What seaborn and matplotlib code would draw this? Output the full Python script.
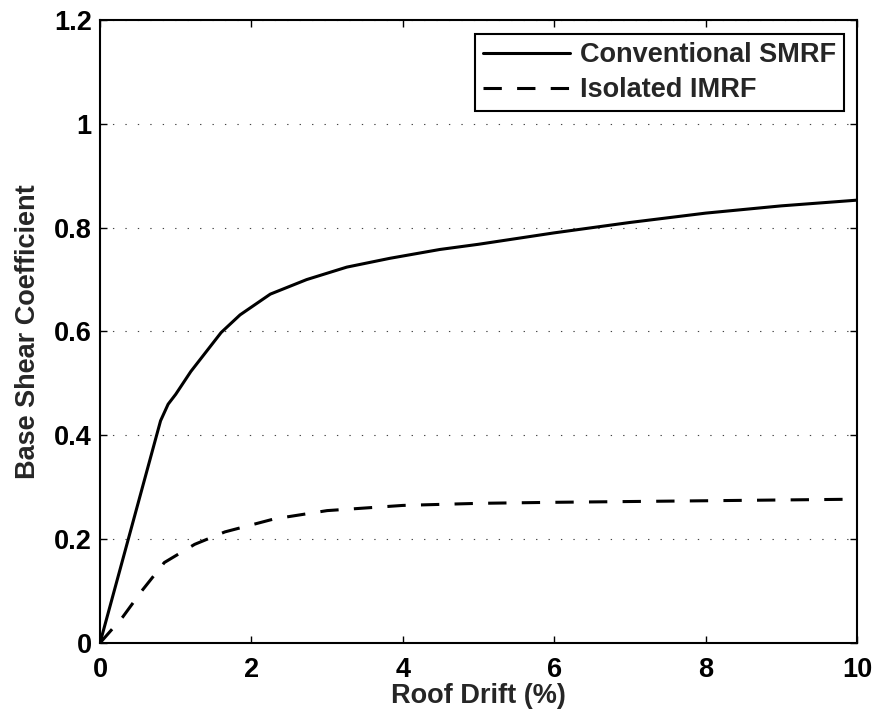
import matplotlib
matplotlib.use("Agg")
import matplotlib.pyplot as plt
import seaborn as sns
import pandas as pd

# Data
x_smrf = [0, 0.8, 0.9, 1.0, 1.2, 1.6, 1.85, 2.25, 2.73, 3.26, 3.83, 4.49, 5.0, 6.0, 7.0, 8.0, 9.0, 10.0]
y_smrf = [0, 0.428, 0.46, 0.479, 0.523, 0.598, 0.632, 0.672, 0.70, 0.724, 0.741, 0.758, 0.768, 0.79, 0.81, 0.828, 0.842, 0.853]
x_imrf = [0, 0.3, 0.55, 0.85, 1.25, 1.65, 2.3, 3.0, 4.0, 5.0, 6.0, 8.0, 10.0]
y_imrf = [0, 0.05, 0.10, 0.155, 0.19, 0.214, 0.239, 0.255, 0.265, 0.269, 0.271, 0.274, 0.277]
series_names = ["Conventional SMRF", "Isolated IMRF"]
x_ticks = [0, 2, 4, 6, 8, 10]
y_ticks = [0, 0.2, 0.4, 0.6, 0.8, 1.0, 1.2]
x_label = "Roof Drift (%)"
y_label = "Base Shear Coefficient"

df = pd.concat([
    pd.DataFrame({"x": x_smrf, "y": y_smrf, "series": series_names[0]}),
    pd.DataFrame({"x": x_imrf, "y": y_imrf, "series": series_names[1]}),
], ignore_index=True)

sns.set_style("ticks")
plt.rcParams["font.family"] = ["Liberation Sans", "DejaVu Sans"]
plt.rcParams["font.weight"] = "bold"
FS = 19.5

fig = plt.figure(figsize=(8.75, 7.22), dpi=100)
ax = fig.add_axes([100/875, (722-643)/722, (857-100)/875, (643-20)/722])

sns.lineplot(data=df, x="x", y="y", hue="series", style="series",
             palette=["black", "black"], dashes=[(None, None), (6, 5)],
             linewidth=2.2, ax=ax, sort=False, estimator=None)

ax.set_xlim(0, 10)
ax.set_ylim(0, 1.2)
ax.set_xticks(x_ticks)
ax.set_yticks(y_ticks)
ax.set_xticklabels([f"{t:g}" for t in x_ticks], fontsize=FS, fontweight="bold")
ax.set_yticklabels([f"{t:g}" for t in y_ticks], fontsize=FS, fontweight="bold")
ax.set_xlabel(x_label, fontsize=FS, fontweight="bold", labelpad=0)
ax.set_ylabel(y_label, fontsize=FS, fontweight="bold", labelpad=9)

for s in ax.spines.values():
    s.set_visible(True)
    s.set_linewidth(1.5)
    s.set_color("black")
ax.tick_params(which="both", direction="in", length=5, width=1.0,
               top=True, right=True, colors="black")
ax.tick_params(axis="y", pad=6)
ax.tick_params(axis="x", pad=10)

ax.yaxis.grid(True, color="#444444", linewidth=0.8, linestyle=(0, (1.2, 10)))
ax.xaxis.grid(False)

handles, labels = ax.get_legend_handles_labels()
leg = ax.legend(handles, labels, loc="upper right",
                bbox_to_anchor=((844-100)/757, (643-34)/623), borderaxespad=0,
                frameon=True, fancybox=False, edgecolor="black",
                handlelength=3.2, handletextpad=0.37, labelspacing=0.33,
                borderpad=0.3, prop={"weight": "bold", "size": FS})
leg.get_frame().set_linewidth(1.5)
leg.get_frame().set_alpha(1)

fig.savefig("out.png", dpi=100)
